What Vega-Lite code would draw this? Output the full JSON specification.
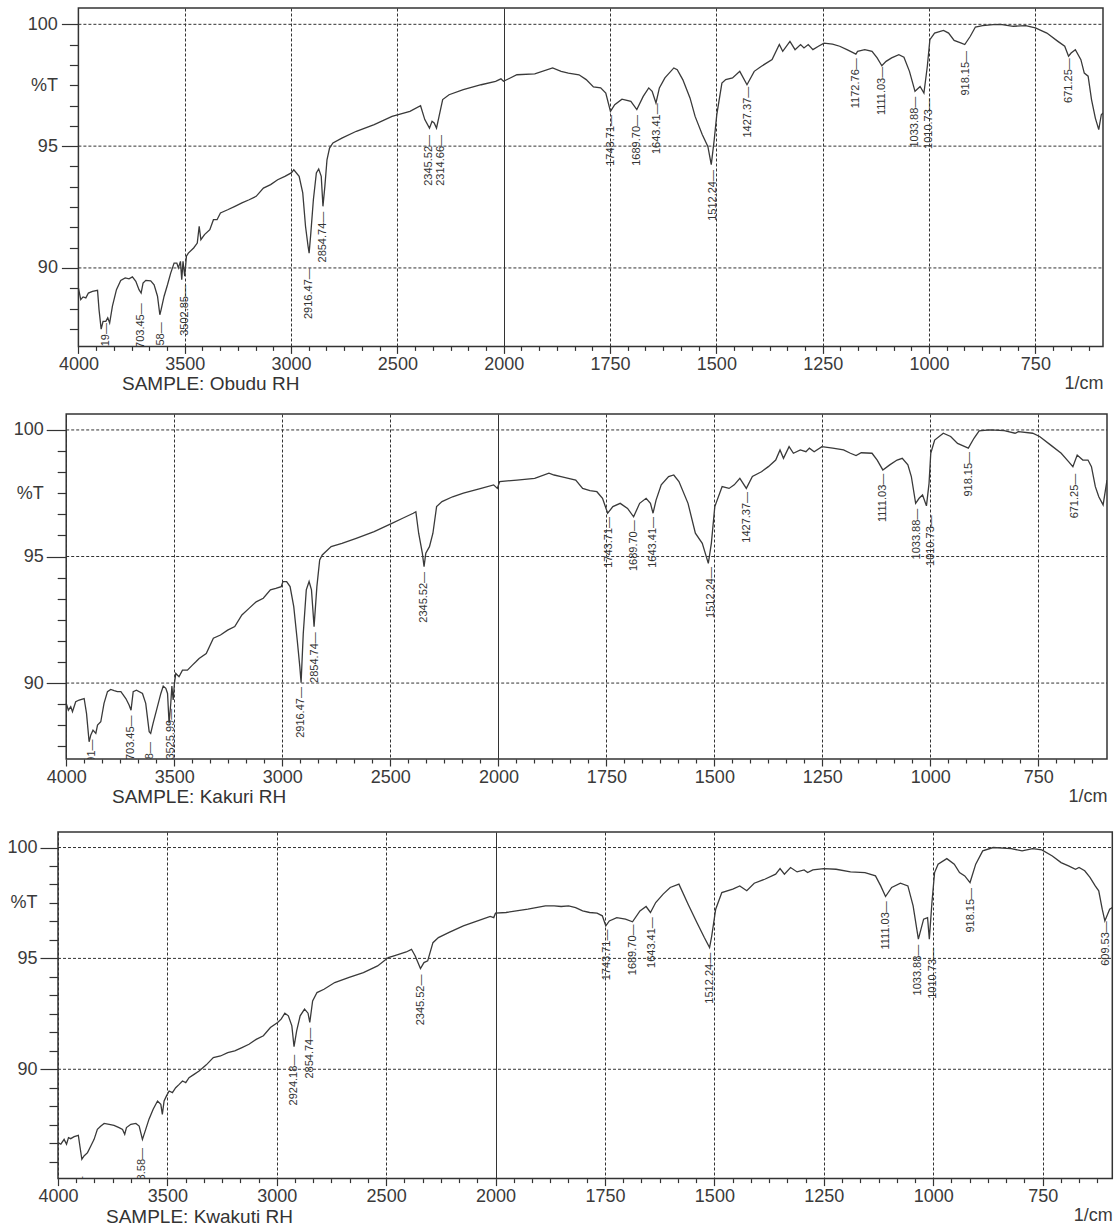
{
  "$schema": "https://vega.github.io/schema/vega-lite/v6.json",
  "background": "white",
  "padding": {"left": 0, "top": 7, "right": 0, "bottom": 0},
  "columns": 1,
  "spacing": 18,
  "config": {
    "view": {"stroke": null},
    "font": "Liberation Sans",
    "axis": {
      "labelFont": "Liberation Sans", "labelFontSize": 18, "labelColor": "#3a3a3a",
      "titleFont": "Liberation Sans", "titleFontSize": 18, "titleFontWeight": "normal", "titleColor": "#3a3a3a",
      "tickColor": "#333", "tickWidth": 1.2, "domain": false, "labelFlush": false, "labelOverlap": false,
      "gridColor": "#333", "gridWidth": 1, "tickCount": 200
    },
    "title": {"font": "Liberation Sans", "fontSize": 19, "fontWeight": "normal", "color": "#333"}
  },
  "datasets": {
    "grid": [{"g": 100, "a": 4000, "b": 591}, {"g": 95, "a": 4000, "b": 591}, {"g": 90, "a": 4000, "b": 591}],
    "fr1": [{"a": 4000, "b": 591, "c": 100.67, "d": 86.78}],
    "fr2": [{"a": 4000, "b": 591, "c": 100.63, "d": 87.0}],
    "fr3": [{"a": 4000, "b": 591, "c": 100.70, "d": 85.07}],
    "p1": [
      {"wn":4000,"t":89.18},{"wn":3989,"t":88.70},{"wn":3978,"t":88.81},{"wn":3965,"t":88.77},{"wn":3953,"t":88.97},{"wn":3934,"t":89.04},{"wn":3910,"t":89.08},{"wn":3903,"t":88.29},{"wn":3893,"t":87.49},{"wn":3884,"t":87.81},{"wn":3871,"t":87.81},{"wn":3862,"t":87.95},{"wn":3853,"t":87.74},{"wn":3840,"t":88.43},{"wn":3821,"t":89.11},{"wn":3801,"t":89.49},{"wn":3780,"t":89.59},{"wn":3762,"t":89.55},{"wn":3746,"t":89.63},{"wn":3730,"t":89.45},{"wn":3715,"t":89.11},{"wn":3705,"t":88.97},{"wn":3696,"t":89.38},{"wn":3683,"t":89.49},{"wn":3660,"t":89.47},{"wn":3644,"t":89.31},{"wn":3628,"t":88.84},{"wn":3617,"t":88.08},{"wn":3611,"t":88.29},{"wn":3597,"t":88.84},{"wn":3581,"t":89.31},{"wn":3566,"t":89.79},{"wn":3550,"t":90.20},{"wn":3537,"t":90.20},{"wn":3530,"t":90.00},{"wn":3520,"t":90.27},{"wn":3514,"t":89.52},{"wn":3508,"t":90.27},{"wn":3500,"t":89.66},{"wn":3492,"t":90.48},{"wn":3483,"t":90.61},{"wn":3458,"t":90.82},{"wn":3441,"t":91.02},{"wn":3432,"t":91.71},{"wn":3424,"t":91.16},{"wn":3407,"t":91.37},{"wn":3382,"t":91.57},{"wn":3365,"t":91.98},{"wn":3348,"t":91.98},{"wn":3332,"t":92.26},{"wn":3298,"t":92.39},{"wn":3264,"t":92.53},{"wn":3231,"t":92.67},{"wn":3197,"t":92.80},{"wn":3164,"t":92.94},{"wn":3130,"t":93.28},{"wn":3096,"t":93.42},{"wn":3063,"t":93.62},{"wn":3029,"t":93.76},{"wn":2999,"t":93.90},{"wn":2987,"t":94.03},{"wn":2962,"t":93.76},{"wn":2945,"t":93.08},{"wn":2932,"t":91.71},{"wn":2920,"t":90.89},{"wn":2915,"t":90.61},{"wn":2907,"t":91.43},{"wn":2895,"t":92.80},{"wn":2881,"t":93.90},{"wn":2870,"t":94.06},{"wn":2858,"t":93.76},{"wn":2850,"t":92.53},{"wn":2841,"t":93.35},{"wn":2831,"t":94.44},{"wn":2819,"t":94.92},{"wn":2803,"t":95.13},{"wn":2761,"t":95.33},{"wn":2693,"t":95.61},{"wn":2609,"t":95.88},{"wn":2525,"t":96.22},{"wn":2441,"t":96.43},{"wn":2391,"t":96.66},{"wn":2371,"t":96.09},{"wn":2349,"t":95.74},{"wn":2337,"t":96.02},{"wn":2327,"t":95.95},{"wn":2316,"t":95.74},{"wn":2304,"t":96.22},{"wn":2287,"t":96.91},{"wn":2257,"t":97.11},{"wn":2190,"t":97.32},{"wn":2106,"t":97.52},{"wn":2038,"t":97.66},{"wn":2013,"t":97.76},{"wn":2001,"t":97.66},{"wn":1969,"t":97.93},{"wn":1927,"t":97.97},{"wn":1885,"t":98.21},{"wn":1865,"t":98.07},{"wn":1848,"t":98.00},{"wn":1823,"t":97.93},{"wn":1806,"t":97.73},{"wn":1789,"t":97.43},{"wn":1772,"t":97.39},{"wn":1760,"t":97.18},{"wn":1749,"t":96.43},{"wn":1739,"t":96.70},{"wn":1722,"t":96.93},{"wn":1701,"t":96.84},{"wn":1687,"t":96.50},{"wn":1672,"t":97.04},{"wn":1659,"t":97.39},{"wn":1651,"t":97.25},{"wn":1642,"t":96.77},{"wn":1634,"t":97.39},{"wn":1621,"t":97.80},{"wn":1600,"t":98.21},{"wn":1592,"t":98.14},{"wn":1579,"t":97.73},{"wn":1562,"t":96.98},{"wn":1550,"t":96.22},{"wn":1533,"t":95.47},{"wn":1520,"t":94.99},{"wn":1512,"t":94.24},{"wn":1505,"t":95.27},{"wn":1499,"t":96.29},{"wn":1487,"t":97.59},{"wn":1478,"t":97.73},{"wn":1462,"t":97.80},{"wn":1445,"t":98.07},{"wn":1428,"t":97.52},{"wn":1411,"t":98.07},{"wn":1394,"t":98.28},{"wn":1369,"t":98.55},{"wn":1352,"t":99.17},{"wn":1344,"t":98.89},{"wn":1327,"t":99.30},{"wn":1315,"t":98.96},{"wn":1302,"t":99.17},{"wn":1294,"t":99.03},{"wn":1284,"t":99.17},{"wn":1273,"t":98.96},{"wn":1260,"t":99.10},{"wn":1247,"t":99.23},{"wn":1227,"t":99.19},{"wn":1210,"t":99.10},{"wn":1193,"t":98.96},{"wn":1180,"t":98.85},{"wn":1172,"t":98.78},{"wn":1168,"t":98.89},{"wn":1151,"t":98.96},{"wn":1134,"t":98.89},{"wn":1122,"t":98.62},{"wn":1111,"t":98.30},{"wn":1101,"t":98.48},{"wn":1088,"t":98.62},{"wn":1071,"t":98.75},{"wn":1059,"t":98.65},{"wn":1046,"t":98.07},{"wn":1033,"t":97.25},{"wn":1021,"t":97.45},{"wn":1012,"t":97.18},{"wn":1004,"t":98.28},{"wn":998,"t":99.37},{"wn":987,"t":99.64},{"wn":966,"t":99.75},{"wn":954,"t":99.64},{"wn":941,"t":99.34},{"wn":924,"t":99.23},{"wn":916,"t":99.17},{"wn":903,"t":99.51},{"wn":891,"t":99.89},{"wn":874,"t":99.95},{"wn":849,"t":99.99},{"wn":832,"t":100.0},{"wn":802,"t":99.92},{"wn":773,"t":99.95},{"wn":750,"t":99.85},{"wn":723,"t":99.64},{"wn":697,"t":99.30},{"wn":681,"t":99.10},{"wn":672,"t":98.69},{"wn":666,"t":98.82},{"wn":656,"t":98.96},{"wn":643,"t":98.55},{"wn":635,"t":98.00},{"wn":626,"t":97.87},{"wn":618,"t":96.91},{"wn":609,"t":96.15},{"wn":601,"t":95.68},{"wn":595,"t":96.29},{"wn":591,"t":96.36}
    ],
    "p1l": [
      {"wn":3871,"pos":87.82,"label":"3871.19—"},{"wn":3707,"pos":88.63,"label":"3703.45—"},{"wn":3613,"pos":87.85,"label":"3610.58—"},{"wn":3500,"pos":89.38,"label":"3502.85—"},{"wn":2915,"pos":90.07,"label":"2916.47—"},{"wn":2848,"pos":92.39,"label":"2854.74—"},{"wn":2352,"pos":95.54,"label":"2345.52—"},{"wn":2295,"pos":95.54,"label":"2314.66—"},{"wn":1747,"pos":96.36,"label":"1743.71—"},{"wn":1687,"pos":96.36,"label":"1689.70—"},{"wn":1640,"pos":96.84,"label":"1643.41—"},{"wn":1508,"pos":94.10,"label":"1512.24—"},{"wn":1426,"pos":97.52,"label":"1427.37—"},{"wn":1172,"pos":98.69,"label":"1172.76—"},{"wn":1111,"pos":98.34,"label":"1111.03—"},{"wn":1032,"pos":97.11,"label":"1033.88—"},{"wn":1001,"pos":97.05,"label":"1010.73—"},{"wn":913,"pos":98.99,"label":"918.15—"},{"wn":670,"pos":98.69,"label":"671.25—"}
    ],
    "p2": [
      {"wn":4000,"t":89.20},{"wn":3990,"t":88.93},{"wn":3979,"t":89.07},{"wn":3971,"t":88.87},{"wn":3956,"t":89.26},{"wn":3940,"t":89.33},{"wn":3917,"t":89.39},{"wn":3906,"t":88.80},{"wn":3894,"t":87.68},{"wn":3886,"t":87.95},{"wn":3876,"t":88.14},{"wn":3863,"t":88.01},{"wn":3855,"t":88.34},{"wn":3840,"t":88.47},{"wn":3825,"t":89.20},{"wn":3809,"t":89.66},{"wn":3794,"t":89.75},{"wn":3778,"t":89.70},{"wn":3763,"t":89.66},{"wn":3747,"t":89.66},{"wn":3724,"t":89.39},{"wn":3709,"t":89.13},{"wn":3700,"t":88.93},{"wn":3690,"t":89.66},{"wn":3675,"t":89.72},{"wn":3647,"t":89.59},{"wn":3632,"t":89.20},{"wn":3616,"t":88.08},{"wn":3609,"t":88.01},{"wn":3598,"t":88.41},{"wn":3582,"t":88.93},{"wn":3562,"t":89.59},{"wn":3551,"t":89.88},{"wn":3539,"t":89.79},{"wn":3531,"t":89.59},{"wn":3524,"t":88.41},{"wn":3516,"t":89.20},{"wn":3511,"t":89.88},{"wn":3505,"t":89.33},{"wn":3499,"t":90.00},{"wn":3493,"t":90.38},{"wn":3478,"t":90.25},{"wn":3462,"t":90.51},{"wn":3439,"t":90.51},{"wn":3416,"t":90.71},{"wn":3400,"t":90.84},{"wn":3385,"t":90.97},{"wn":3352,"t":91.17},{"wn":3319,"t":91.77},{"wn":3286,"t":91.90},{"wn":3253,"t":92.09},{"wn":3220,"t":92.23},{"wn":3187,"t":92.69},{"wn":3154,"t":92.95},{"wn":3121,"t":93.21},{"wn":3088,"t":93.35},{"wn":3055,"t":93.68},{"wn":3030,"t":93.74},{"wn":3005,"t":93.81},{"wn":2997,"t":94.01},{"wn":2980,"t":94.01},{"wn":2964,"t":93.81},{"wn":2947,"t":93.02},{"wn":2931,"t":91.70},{"wn":2919,"t":90.65},{"wn":2913,"t":90.01},{"wn":2903,"t":91.96},{"wn":2889,"t":93.68},{"wn":2876,"t":94.01},{"wn":2865,"t":93.68},{"wn":2853,"t":92.23},{"wn":2840,"t":93.81},{"wn":2827,"t":94.86},{"wn":2815,"t":95.06},{"wn":2774,"t":95.39},{"wn":2724,"t":95.52},{"wn":2658,"t":95.72},{"wn":2575,"t":95.98},{"wn":2493,"t":96.31},{"wn":2443,"t":96.51},{"wn":2394,"t":96.71},{"wn":2382,"t":96.77},{"wn":2369,"t":95.92},{"wn":2352,"t":95.13},{"wn":2344,"t":94.60},{"wn":2336,"t":95.13},{"wn":2319,"t":95.39},{"wn":2303,"t":95.92},{"wn":2286,"t":96.97},{"wn":2261,"t":97.17},{"wn":2212,"t":97.36},{"wn":2162,"t":97.50},{"wn":2080,"t":97.69},{"wn":2022,"t":97.83},{"wn":2005,"t":97.69},{"wn":1997,"t":97.96},{"wn":1957,"t":98.02},{"wn":1916,"t":98.09},{"wn":1883,"t":98.29},{"wn":1871,"t":98.22},{"wn":1855,"t":98.16},{"wn":1838,"t":98.09},{"wn":1821,"t":98.02},{"wn":1805,"t":97.69},{"wn":1788,"t":97.60},{"wn":1772,"t":97.56},{"wn":1759,"t":97.30},{"wn":1747,"t":96.71},{"wn":1735,"t":96.97},{"wn":1718,"t":97.10},{"wn":1701,"t":96.90},{"wn":1687,"t":96.57},{"wn":1673,"t":97.10},{"wn":1658,"t":97.30},{"wn":1648,"t":97.10},{"wn":1642,"t":96.71},{"wn":1635,"t":97.23},{"wn":1623,"t":97.83},{"wn":1606,"t":98.16},{"wn":1594,"t":98.22},{"wn":1582,"t":97.96},{"wn":1561,"t":97.10},{"wn":1544,"t":95.92},{"wn":1528,"t":95.52},{"wn":1514,"t":94.73},{"wn":1507,"t":95.52},{"wn":1499,"t":96.97},{"wn":1482,"t":97.76},{"wn":1466,"t":97.69},{"wn":1454,"t":97.83},{"wn":1441,"t":98.09},{"wn":1426,"t":97.69},{"wn":1412,"t":98.16},{"wn":1391,"t":98.35},{"wn":1375,"t":98.55},{"wn":1358,"t":98.81},{"wn":1348,"t":99.21},{"wn":1340,"t":98.88},{"wn":1327,"t":99.34},{"wn":1317,"t":99.08},{"wn":1301,"t":99.21},{"wn":1288,"t":99.14},{"wn":1280,"t":99.28},{"wn":1269,"t":99.14},{"wn":1251,"t":99.34},{"wn":1226,"t":99.28},{"wn":1201,"t":99.21},{"wn":1185,"t":99.08},{"wn":1172,"t":98.99},{"wn":1160,"t":99.10},{"wn":1135,"t":99.08},{"wn":1123,"t":98.81},{"wn":1110,"t":98.42},{"wn":1094,"t":98.62},{"wn":1077,"t":98.81},{"wn":1065,"t":98.88},{"wn":1052,"t":98.62},{"wn":1044,"t":98.16},{"wn":1034,"t":97.10},{"wn":1026,"t":97.30},{"wn":1018,"t":97.43},{"wn":1009,"t":97.00},{"wn":1003,"t":97.89},{"wn":999,"t":99.08},{"wn":990,"t":99.60},{"wn":970,"t":99.87},{"wn":953,"t":99.74},{"wn":937,"t":99.47},{"wn":920,"t":99.34},{"wn":912,"t":99.28},{"wn":899,"t":99.67},{"wn":887,"t":99.96},{"wn":862,"t":100.0},{"wn":829,"t":99.97},{"wn":804,"t":99.87},{"wn":796,"t":99.93},{"wn":763,"t":99.87},{"wn":747,"t":99.74},{"wn":722,"t":99.41},{"wn":697,"t":99.08},{"wn":680,"t":98.75},{"wn":670,"t":98.55},{"wn":660,"t":99.01},{"wn":647,"t":98.81},{"wn":635,"t":98.81},{"wn":627,"t":98.55},{"wn":618,"t":97.76},{"wn":610,"t":97.36},{"wn":600,"t":97.04},{"wn":591,"t":98.02}
    ],
    "p2l": [
      {"wn":3879,"pos":87.85,"label":"3881.91—"},{"wn":3700,"pos":88.80,"label":"3703.45—"},{"wn":3613,"pos":87.75,"label":"3618.18—"},{"wn":3513,"pos":89.06,"label":"3525.99—"},{"wn":2914,"pos":89.92,"label":"2916.47—"},{"wn":2848,"pos":92.09,"label":"2854.74—"},{"wn":2344,"pos":94.47,"label":"2345.52—"},{"wn":1745,"pos":96.64,"label":"1743.71—"},{"wn":1687,"pos":96.51,"label":"1689.70—"},{"wn":1641,"pos":96.64,"label":"1643.41—"},{"wn":1507,"pos":94.66,"label":"1512.24—"},{"wn":1425,"pos":97.63,"label":"1427.37—"},{"wn":1109,"pos":98.35,"label":"1111.03—"},{"wn":1032,"pos":96.97,"label":"1033.88—"},{"wn":999,"pos":96.71,"label":"1010.73—"},{"wn":910,"pos":99.21,"label":"918.15—"},{"wn":664,"pos":98.35,"label":"671.25—"}
    ],
    "p3": [
      {"wn":4000,"t":86.69},{"wn":3987,"t":86.62},{"wn":3972,"t":86.84},{"wn":3961,"t":86.62},{"wn":3952,"t":86.92},{"wn":3942,"t":86.87},{"wn":3926,"t":86.96},{"wn":3907,"t":87.02},{"wn":3900,"t":86.54},{"wn":3891,"t":85.94},{"wn":3881,"t":86.09},{"wn":3865,"t":86.24},{"wn":3850,"t":86.54},{"wn":3835,"t":86.84},{"wn":3820,"t":87.29},{"wn":3804,"t":87.44},{"wn":3789,"t":87.56},{"wn":3766,"t":87.52},{"wn":3744,"t":87.47},{"wn":3721,"t":87.37},{"wn":3705,"t":87.29},{"wn":3695,"t":87.07},{"wn":3687,"t":87.37},{"wn":3667,"t":87.52},{"wn":3644,"t":87.56},{"wn":3629,"t":87.44},{"wn":3614,"t":86.84},{"wn":3599,"t":87.29},{"wn":3584,"t":87.75},{"wn":3565,"t":88.20},{"wn":3545,"t":88.57},{"wn":3530,"t":88.42},{"wn":3523,"t":87.97},{"wn":3515,"t":88.57},{"wn":3504,"t":88.80},{"wn":3492,"t":89.02},{"wn":3477,"t":88.95},{"wn":3462,"t":89.17},{"wn":3446,"t":89.32},{"wn":3431,"t":89.47},{"wn":3416,"t":89.40},{"wn":3401,"t":89.62},{"wn":3378,"t":89.77},{"wn":3355,"t":89.92},{"wn":3322,"t":90.20},{"wn":3290,"t":90.53},{"wn":3257,"t":90.60},{"wn":3224,"t":90.75},{"wn":3192,"t":90.83},{"wn":3159,"t":90.98},{"wn":3127,"t":91.13},{"wn":3094,"t":91.35},{"wn":3061,"t":91.51},{"wn":3029,"t":91.88},{"wn":2996,"t":92.11},{"wn":2980,"t":92.26},{"wn":2963,"t":92.53},{"wn":2947,"t":92.41},{"wn":2931,"t":91.96},{"wn":2921,"t":91.02},{"wn":2909,"t":91.73},{"wn":2893,"t":92.41},{"wn":2873,"t":92.71},{"wn":2857,"t":92.53},{"wn":2849,"t":92.11},{"wn":2836,"t":93.08},{"wn":2816,"t":93.46},{"wn":2784,"t":93.61},{"wn":2735,"t":93.91},{"wn":2669,"t":94.14},{"wn":2604,"t":94.36},{"wn":2539,"t":94.66},{"wn":2490,"t":95.04},{"wn":2457,"t":95.14},{"wn":2408,"t":95.29},{"wn":2384,"t":95.41},{"wn":2367,"t":95.11},{"wn":2343,"t":94.54},{"wn":2327,"t":94.81},{"wn":2310,"t":94.89},{"wn":2286,"t":95.71},{"wn":2261,"t":95.94},{"wn":2212,"t":96.17},{"wn":2147,"t":96.47},{"wn":2082,"t":96.69},{"wn":2024,"t":96.89},{"wn":2008,"t":96.84},{"wn":2000,"t":97.04},{"wn":1976,"t":97.07},{"wn":1926,"t":97.22},{"wn":1886,"t":97.37},{"wn":1866,"t":97.37},{"wn":1850,"t":97.34},{"wn":1833,"t":97.37},{"wn":1817,"t":97.29},{"wn":1801,"t":97.14},{"wn":1785,"t":97.07},{"wn":1768,"t":97.04},{"wn":1756,"t":96.92},{"wn":1748,"t":96.47},{"wn":1740,"t":96.69},{"wn":1723,"t":96.84},{"wn":1703,"t":96.77},{"wn":1687,"t":96.65},{"wn":1670,"t":97.14},{"wn":1656,"t":97.34},{"wn":1646,"t":97.07},{"wn":1634,"t":97.52},{"wn":1617,"t":97.90},{"wn":1601,"t":98.20},{"wn":1581,"t":98.35},{"wn":1560,"t":97.44},{"wn":1540,"t":96.62},{"wn":1523,"t":95.94},{"wn":1511,"t":95.49},{"wn":1506,"t":96.02},{"wn":1497,"t":97.22},{"wn":1483,"t":97.97},{"wn":1458,"t":98.12},{"wn":1442,"t":98.27},{"wn":1426,"t":98.05},{"wn":1409,"t":98.39},{"wn":1385,"t":98.57},{"wn":1360,"t":98.80},{"wn":1350,"t":99.05},{"wn":1340,"t":98.80},{"wn":1326,"t":99.10},{"wn":1311,"t":98.90},{"wn":1295,"t":98.99},{"wn":1287,"t":98.87},{"wn":1275,"t":98.99},{"wn":1250,"t":99.05},{"wn":1222,"t":99.02},{"wn":1189,"t":98.90},{"wn":1156,"t":98.87},{"wn":1132,"t":98.72},{"wn":1120,"t":98.27},{"wn":1109,"t":97.79},{"wn":1095,"t":98.20},{"wn":1075,"t":98.39},{"wn":1058,"t":98.27},{"wn":1046,"t":97.37},{"wn":1034,"t":95.87},{"wn":1022,"t":96.77},{"wn":1013,"t":96.84},{"wn":1009,"t":95.87},{"wn":1003,"t":97.52},{"wn":997,"t":98.87},{"wn":989,"t":99.25},{"wn":969,"t":99.50},{"wn":952,"t":99.25},{"wn":940,"t":98.87},{"wn":928,"t":98.72},{"wn":916,"t":98.42},{"wn":903,"t":99.25},{"wn":887,"t":99.85},{"wn":863,"t":100.0},{"wn":822,"t":99.95},{"wn":797,"t":99.85},{"wn":773,"t":99.95},{"wn":752,"t":99.89},{"wn":728,"t":99.62},{"wn":708,"t":99.32},{"wn":691,"t":99.17},{"wn":675,"t":99.02},{"wn":667,"t":99.10},{"wn":654,"t":98.95},{"wn":642,"t":98.65},{"wn":630,"t":98.27},{"wn":622,"t":98.05},{"wn":614,"t":97.22},{"wn":608,"t":96.69},{"wn":597,"t":97.22},{"wn":591,"t":97.29}
    ],
    "p3l": [
      {"wn":3891,"pos":85.26,"label":"3890.15—"},{"wn":3614,"pos":86.54,"label":"3608.58—"},{"wn":2921,"pos":90.75,"label":"2924.18—"},{"wn":2849,"pos":91.96,"label":"2854.74—"},{"wn":2340,"pos":94.36,"label":"2345.52—"},{"wn":1746,"pos":96.39,"label":"1743.71—"},{"wn":1685,"pos":96.62,"label":"1689.70—"},{"wn":1642,"pos":96.95,"label":"1643.41—"},{"wn":1509,"pos":95.34,"label":"1512.24—"},{"wn":1109,"pos":97.67,"label":"1111.03—"},{"wn":1034,"pos":95.71,"label":"1033.88—"},{"wn":1000,"pos":95.56,"label":"1010.73—"},{"wn":913,"pos":98.27,"label":"918.15—"},{"wn":606,"pos":96.77,"label":"609.53—"}
    ]
  },
  "concat": [
    {
      "width": 1045.0, "height": 338.4,
      "title": {"text": "SAMPLE: Obudu RH", "orient": "bottom", "anchor": "start", "frame": "group", "align": "left", "baseline": "top", "dx": 64, "dy": -17, "offset": 0},
      "encoding": {
        "x": {"field": "wn", "type": "quantitative", "scale": {"domain": [4000, 2000, 591], "range": [20.4, 445.7, 1045.0], "nice": false, "zero": false},
          "axis": {"title": "1/cm", "titleAnchor": "end", "titleAlign": "right", "titleBaseline": "middle", "titleY": 37,
            "values": [4000,3916.667,3833.333,3750,3666.667,3583.333,3500,3416.667,3333.333,3250,3166.667,3083.333,3000,2916.667,2833.333,2750,2666.667,2583.333,2500,2416.667,2333.333,2250,2166.667,2083.333,2000,1958.333,1916.667,1875,1833.333,1791.667,1750,1708.333,1666.667,1625,1583.333,1541.667,1500,1458.333,1416.667,1375,1333.333,1291.667,1250,1208.333,1166.667,1125,1083.333,1041.667,1000,958.333,916.667,875,833.333,791.667,750,708.333,666.667,625],
            "format": "d", "labelPadding": 2, "tickCount": 200,
            "labelExpr": "indexof([4000,3500,3000,2500,2000,1750,1500,1250,1000,750], datum.value) >= 0 ? datum.label : ''",
            "tickSize": {"condition": {"test": "indexof([4000,3500,3000,2500,2000,1750,1500,1250,1000,750], datum.value) >= 0", "value": 7}, "value": 4},
            "grid": true,
            "gridOpacity": {"condition": {"test": "indexof([4000,3500,3000,2500,2000,1750,1500,1250,1000,750], datum.value) >= 0", "value": 1}, "value": 0},
            "gridDash": {"condition": {"test": "datum.value == 2000", "value": []}, "value": [3, 2]}}}
      },
      "layer": [
        {"data": {"name": "grid"}, "mark": {"type": "rule", "color": "#333", "strokeWidth": 1, "strokeDash": [3, 2]},
          "encoding": {"x": {"field": "a", "type": "quantitative"}, "x2": {"field": "b"}, "y": {"field": "g", "type": "quantitative"}}},
        {"data": {"name": "p1"}, "mark": {"type": "line", "color": "#3a3a3a", "strokeWidth": 1.3, "clip": true},
          "encoding": {"y": {"field": "t", "type": "quantitative", "scale": {"domain": [86.78, 100.67], "nice": false, "zero": false},
            "axis": {"title": null, "offset": -20.4, "grid": false, "tickCount": 200, "values": [100,99.1667,98.3333,97.5,96.6667,95.8333,95,94.1667,93.3333,92.5,91.6667,90.8333,90,89.1667,88.3333,87.5],
              "labelExpr": "datum.value == 97.5 ? '%T' : (indexof([100,95,90], datum.value) >= 0 ? format(datum.value, 'd') : '')",
              "tickSize": {"condition": {"test": "indexof([100,95,90], datum.value) >= 0", "value": 17}, "value": 9},
              "labelPadding": {"condition": {"test": "datum.value == 97.5", "value": 12}, "value": 4}}}}},
        {"data": {"name": "p1l"}, "mark": {"type": "text", "angle": 270, "align": "right", "baseline": "middle", "fontSize": 11, "font": "Liberation Sans", "color": "#333", "clip": true, "dx": -2},
          "encoding": {"y": {"field": "pos", "type": "quantitative"}, "text": {"field": "label"}}},
        {"data": {"name": "fr1"}, "mark": {"type": "rect", "fill": "transparent", "stroke": "#333", "strokeWidth": 1.5},
          "encoding": {"x": {"field": "a", "type": "quantitative"}, "x2": {"field": "b"}, "y": {"field": "c", "type": "quantitative"}, "y2": {"field": "d"}}}
      ]
    },
    {
      "width": 1049.0, "height": 345,
      "title": {"text": "SAMPLE: Kakuri RH", "orient": "bottom", "anchor": "start", "frame": "group", "align": "left", "baseline": "top", "dx": 54, "dy": -24.3, "offset": 0},
      "encoding": {
        "x": {"field": "wn", "type": "quantitative", "scale": {"domain": [4000, 2000, 591], "range": [8.2, 440.4, 1049.0], "nice": false, "zero": false},
          "axis": {"title": "1/cm", "titleAnchor": "end", "titleAlign": "right", "titleBaseline": "middle", "titleY": 37, "minExtent": 53.3,
            "values": [4000,3916.667,3833.333,3750,3666.667,3583.333,3500,3416.667,3333.333,3250,3166.667,3083.333,3000,2916.667,2833.333,2750,2666.667,2583.333,2500,2416.667,2333.333,2250,2166.667,2083.333,2000,1958.333,1916.667,1875,1833.333,1791.667,1750,1708.333,1666.667,1625,1583.333,1541.667,1500,1458.333,1416.667,1375,1333.333,1291.667,1250,1208.333,1166.667,1125,1083.333,1041.667,1000,958.333,916.667,875,833.333,791.667,750,708.333,666.667,625],
            "format": "d", "labelPadding": 2, "tickCount": 200,
            "labelExpr": "indexof([4000,3500,3000,2500,2000,1750,1500,1250,1000,750], datum.value) >= 0 ? datum.label : ''",
            "tickSize": {"condition": {"test": "indexof([4000,3500,3000,2500,2000,1750,1500,1250,1000,750], datum.value) >= 0", "value": 7}, "value": 4},
            "grid": true,
            "gridOpacity": {"condition": {"test": "indexof([4000,3500,3000,2500,2000,1750,1500,1250,1000,750], datum.value) >= 0", "value": 1}, "value": 0},
            "gridDash": {"condition": {"test": "datum.value == 2000", "value": []}, "value": [3, 2]}}}
      },
      "layer": [
        {"data": {"name": "grid"}, "mark": {"type": "rule", "color": "#333", "strokeWidth": 1, "strokeDash": [3, 2]},
          "encoding": {"x": {"field": "a", "type": "quantitative"}, "x2": {"field": "b"}, "y": {"field": "g", "type": "quantitative"}}},
        {"data": {"name": "p2"}, "mark": {"type": "line", "color": "#3a3a3a", "strokeWidth": 1.3, "clip": true},
          "encoding": {"y": {"field": "t", "type": "quantitative", "scale": {"domain": [87.0, 100.63], "nice": false, "zero": false},
            "axis": {"title": null, "offset": -8.2, "grid": false, "tickCount": 200, "values": [100,99.1667,98.3333,97.5,96.6667,95.8333,95,94.1667,93.3333,92.5,91.6667,90.8333,90,89.1667,88.3333,87.5],
              "labelExpr": "datum.value == 97.5 ? '%T' : (indexof([100,95,90], datum.value) >= 0 ? format(datum.value, 'd') : '')",
              "tickSize": {"condition": {"test": "indexof([100,95,90], datum.value) >= 0", "value": 20}, "value": 9},
              "labelPadding": {"condition": {"test": "datum.value == 97.5", "value": 14}, "value": 3}}}}},
        {"data": {"name": "p2l"}, "mark": {"type": "text", "angle": 270, "align": "right", "baseline": "middle", "fontSize": 11, "font": "Liberation Sans", "color": "#333", "clip": true, "dx": -2},
          "encoding": {"y": {"field": "pos", "type": "quantitative"}, "text": {"field": "label"}}},
        {"data": {"name": "fr2"}, "mark": {"type": "rect", "fill": "transparent", "stroke": "#333", "strokeWidth": 1.5},
          "encoding": {"x": {"field": "a", "type": "quantitative"}, "x2": {"field": "b"}, "y": {"field": "c", "type": "quantitative"}, "y2": {"field": "d"}}}
      ]
    },
    {
      "width": 1054.3, "height": 346.6,
      "title": {"text": "SAMPLE: Kwakuti RH", "orient": "bottom", "anchor": "start", "frame": "group", "align": "left", "baseline": "top", "dx": 48, "dy": -17, "offset": 0},
      "encoding": {
        "x": {"field": "wn", "type": "quantitative", "scale": {"domain": [4000, 2000, 591], "range": [0, 437.5, 1054.3], "nice": false, "zero": false},
          "axis": {"title": "1/cm", "titleAnchor": "end", "titleAlign": "right", "titleBaseline": "middle", "titleY": 37,
            "values": [4000,3916.667,3833.333,3750,3666.667,3583.333,3500,3416.667,3333.333,3250,3166.667,3083.333,3000,2916.667,2833.333,2750,2666.667,2583.333,2500,2416.667,2333.333,2250,2166.667,2083.333,2000,1958.333,1916.667,1875,1833.333,1791.667,1750,1708.333,1666.667,1625,1583.333,1541.667,1500,1458.333,1416.667,1375,1333.333,1291.667,1250,1208.333,1166.667,1125,1083.333,1041.667,1000,958.333,916.667,875,833.333,791.667,750,708.333,666.667,625],
            "format": "d", "labelPadding": 2, "tickCount": 200,
            "labelExpr": "indexof([4000,3500,3000,2500,2000,1750,1500,1250,1000,750], datum.value) >= 0 ? datum.label : ''",
            "tickSize": {"condition": {"test": "indexof([4000,3500,3000,2500,2000,1750,1500,1250,1000,750], datum.value) >= 0", "value": 7}, "value": 4},
            "grid": true,
            "gridOpacity": {"condition": {"test": "indexof([4000,3500,3000,2500,2000,1750,1500,1250,1000,750], datum.value) >= 0", "value": 1}, "value": 0},
            "gridDash": {"condition": {"test": "datum.value == 2000", "value": []}, "value": [3, 2]}}}
      },
      "layer": [
        {"data": {"name": "grid"}, "mark": {"type": "rule", "color": "#333", "strokeWidth": 1, "strokeDash": [3, 2]},
          "encoding": {"x": {"field": "a", "type": "quantitative"}, "x2": {"field": "b"}, "y": {"field": "g", "type": "quantitative"}}},
        {"data": {"name": "p3"}, "mark": {"type": "line", "color": "#3a3a3a", "strokeWidth": 1.3, "clip": true},
          "encoding": {"y": {"field": "t", "type": "quantitative", "scale": {"domain": [85.07, 100.70], "nice": false, "zero": false},
            "axis": {"title": null, "grid": false, "minExtent": 57.5, "tickCount": 200, "values": [100,99.1667,98.3333,97.5,96.6667,95.8333,95,94.1667,93.3333,92.5,91.6667,90.8333,90,89.1667,88.3333,87.5,86.6667,85.8333],
              "labelExpr": "datum.value == 97.5 ? '%T' : (indexof([100,95,90], datum.value) >= 0 ? format(datum.value, 'd') : '')",
              "tickSize": {"condition": {"test": "indexof([100,95,90], datum.value) >= 0", "value": 18}, "value": 9},
              "labelPadding": {"condition": {"test": "datum.value == 97.5", "value": 12}, "value": 3}}}}},
        {"data": {"name": "p3l"}, "mark": {"type": "text", "angle": 270, "align": "right", "baseline": "middle", "fontSize": 11, "font": "Liberation Sans", "color": "#333", "clip": true, "dx": -2},
          "encoding": {"y": {"field": "pos", "type": "quantitative"}, "text": {"field": "label"}}},
        {"data": {"name": "fr3"}, "mark": {"type": "rect", "fill": "transparent", "stroke": "#333", "strokeWidth": 1.5},
          "encoding": {"x": {"field": "a", "type": "quantitative"}, "x2": {"field": "b"}, "y": {"field": "c", "type": "quantitative"}, "y2": {"field": "d"}}}
      ]
    }
  ]
}
